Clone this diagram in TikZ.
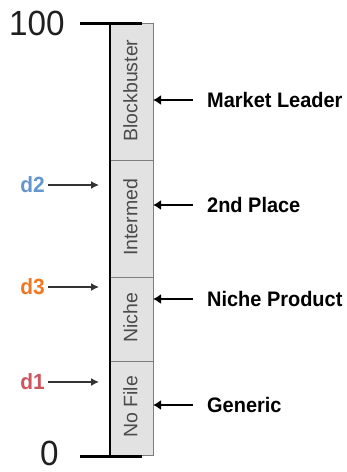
\documentclass[tikz,border=0pt]{standalone}
\usepackage{fontspec}
\setmainfont{Liberation Sans}
\newfontfamily\labfont[FakeStretch=0.95]{Liberation Sans}
\usetikzlibrary{arrows.meta}
\definecolor{segfill}{RGB}{226,226,226}
\definecolor{segedge}{RGB}{125,125,125}
\definecolor{segtextc}{RGB}{75,75,75}
\definecolor{dblue}{RGB}{100,150,205}
\definecolor{dorange}{RGB}{240,120,35}
\definecolor{dred}{RGB}{205,85,95}
\tikzset{
  seg/.style={draw=segedge, line width=0.8pt, fill=segfill, minimum width=43pt,
    inner sep=0pt, outer sep=0pt},
  segtext/.style={rotate=90, text=segtextc, inner sep=0pt,
    font=\fontsize{19.5}{22}\selectfont},
  scalelab/.style={anchor=west, inner sep=0pt, text=black!88,
    font=\labfont\fontsize{35}{38}\selectfont, text height=24pt, text depth=0pt},
  tierlab/.style={anchor=west, inner sep=0pt, text height=15pt, text depth=0pt,
    font=\labfont\bfseries\fontsize{21}{24}\selectfont},
  dlab/.style={anchor=east, inner sep=0pt, text height=15pt, text depth=0pt,
    font=\labfont\bfseries\fontsize{22}{24}\selectfont},
  bigarrow/.style={line width=2.8pt, -{Latex[length=8pt,width=10pt]}},
  thinarrow/.style={line width=1.4pt, black!80, -{Latex[length=8pt,width=8pt]}},
  tick/.style={line width=3pt},
  axis/.style={line width=2pt}
}
\begin{document}
\begin{tikzpicture}[x=1pt,y=-1pt]
\useasboundingbox (0,0) rectangle (347,472);

% stacked tier segments
\node[seg, minimum height=137pt] (bb) at (131.5,91.5) {};
\node[seg, minimum height=117pt] (im) at (131.5,218.5) {};
\node[seg, minimum height=84pt]  (ni) at (131.5,319) {};
\node[seg, minimum height=94pt]  (nf) at (131.5,408) {};
\node[segtext] (bbt) at (130.5,90.5) {Blockbuster};
\node[segtext] (imt) at (130.5,217.5) {Intermed};
\node[segtext] (nit) at (130.5,318) {Niche};
\node[segtext] (nft) at (130.5,407) {No File};

% scale axis with end ticks
\coordinate (top) at (110,23);
\coordinate (bot) at (110,456);
\coordinate (tl) at (80,23);
\coordinate (tr) at (142,23);
\coordinate (bl) at (80,456);
\coordinate (br) at (142,456);
\draw[axis] (top) -- (bot);
\draw[tick] (tl) -- (tr);
\draw[tick] (bl) -- (br);
\node[scalelab] (hundred) at (9,23.5) {100};
\node[scalelab] (zero) at (40,453) {0};

% tier names on the right
\node[tierlab] (ml) at (207,100) {Market Leader};
\node[tierlab] (sp) at (207,205) {2nd Place};
\node[tierlab] (np) at (207,299) {Niche Product};
\node[tierlab] (ge) at (207,405) {Generic};
\foreach \n in {ml,sp,np,ge}
  \draw[bigarrow] ([xshift=-14pt]\n.west) -- (\n.west -| bb.east);

% positions d1, d2, d3 on the left
\node[dlab, text=dblue]   (d2) at (45,185) {d2};
\node[dlab, text=dorange] (d3) at (45,287) {d3};
\node[dlab, text=dred]    (d1) at (45,382) {d1};
\foreach \n in {d1,d2,d3}
  \draw[thinarrow, shorten <=3pt, shorten >=11pt] (\n.east) -- (\n.east -| top);
\end{tikzpicture}
\end{document}
